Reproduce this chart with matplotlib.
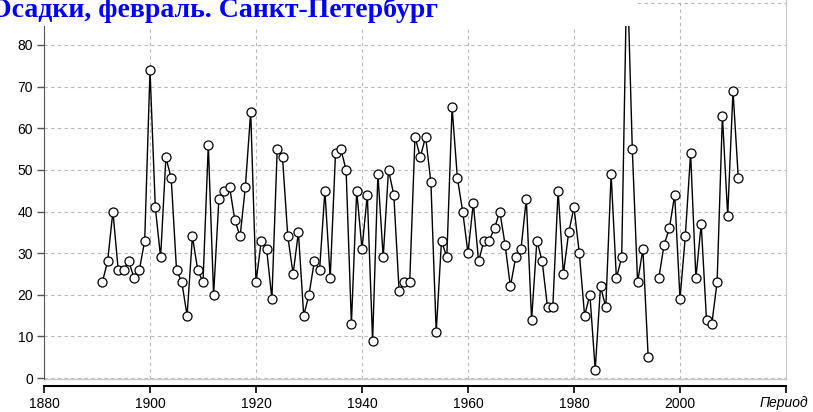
import numpy as np
import matplotlib
matplotlib.use('Agg')
import matplotlib.pyplot as plt
from matplotlib.patches import Rectangle

#February precipitation, Saint Petersburg (1995 missing)
years = list(range(1891, 2012))
precip = [23, 28, 40, 26, 26, 28, 24, 26, 33, 74,
          41, 29, 53, 48, 26, 23, 15, 34, 26, 23,
          56, 20, 43, 45, 46, 38, 34, 46, 64, 23,
          33, 31, 19, 55, 53, 34, 25, 35, 15, 20,
          28, 26, 45, 24, 54, 55, 50, 13, 45, 31,
          44, 9, 49, 29, 50, 44, 21, 23, 23, 58,
          53, 58, 47, 11, 33, 29, 65, 48, 40, 30,
          42, 28, 33, 33, 36, 40, 32, 22, 29, 31,
          43, 14, 33, 28, 17, 17, 45, 25, 35, 41,
          30, 15, 20, 2, 22, 17, 49, 24, 29, 100,
          55, 23, 31, 5, np.nan, 24, 32, 36, 44, 19,
          34, 54, 24, 37, 14, 13, 23, 63, 39, 69,
          48]

title = 'Осадки, февраль. Санкт-Петербург'
xticks = [1880, 1900, 1920, 1940, 1960, 1980, 2000, 2020]
xtick_labels = ['1880', '1900', '1920', '1940', '1960', '1980', '2000', '']
yticks = [0, 10, 20, 30, 40, 50, 60, 70, 80, 90]
ytick_labels = ['0', '10', '20', '30', '40', '50', '60', '70', '80', '']


def main():
    W, H = 813, 412
    fig = plt.figure(figsize=(W / 100, H / 100), dpi=100)

    #axes placed in pixels: y=0 at 378px, y=80 at 45px (top goes off the figure)
    px_per_unit = (378 - 45) / 80
    y0, y1 = -0.3, 95
    bottom_px = 378 + (0 - y0) * px_per_unit
    top_px = 378 - y1 * px_per_unit
    left_px, right_px = 44, 786
    ax = fig.add_axes([left_px / W, (H - bottom_px) / H,
                       (right_px - left_px) / W, (bottom_px - top_px) / H])
    ax.set_xlim(1880, 2020)
    ax.set_ylim(y0, y1)

    ax.plot(years, precip, color='black', lw=1.0, marker='o', ms=6.5,
            mfc='white', mec='black', mew=0.9, zorder=3)

    #grid
    ax.set_yticks(yticks)
    ax.set_yticklabels(ytick_labels)
    ax.set_xticks(xticks)
    ax.set_xticklabels(xtick_labels)
    ax.grid(True, color='#b8b8b8', linestyle=(0, (3, 3)), lw=0.8)

    #frame
    ax.spines['top'].set_visible(False)
    ax.spines['right'].set_color('#c8c8c8')
    ax.spines['left'].set_color('#555555')
    ax.spines['bottom'].set_position(('outward', 5))
    ax.spines['bottom'].set_color('black')
    ax.spines['bottom'].set_linewidth(1.5)
    ax.plot([0, 1], [0, 0], transform=ax.transAxes, color='#c8c8c8',
            lw=1, clip_on=False)

    ax.tick_params(axis='x', direction='out', length=5, width=1.2,
                   color='black', labelsize=10, pad=3)
    ax.tick_params(axis='y', direction='out', length=5, width=1,
                   color='#555555', labelsize=10, pad=3)
    for lab in ax.get_xticklabels() + ax.get_yticklabels():
        lab.set_fontfamily('Liberation Sans')

    fig.text(784 / W, (H - 403) / H, 'Период', ha='center', va='center',
             fontsize=10, style='italic', family='Liberation Sans')

    #white box behind the title, covering the top of the plot
    fig.add_artist(Rectangle((0, (H - 26) / H), 638 / W, 26 / H,
                             transform=fig.transFigure, facecolor='white',
                             edgecolor='none', zorder=5))
    fig.text(-10 / W, (H - 17) / H, title, ha='left', va='baseline',
             fontsize=20, fontweight='bold', color='#0000ff',
             family='Liberation Serif', zorder=6)

    fig.savefig('out.png', dpi=100)


if __name__ == '__main__':
    main()
